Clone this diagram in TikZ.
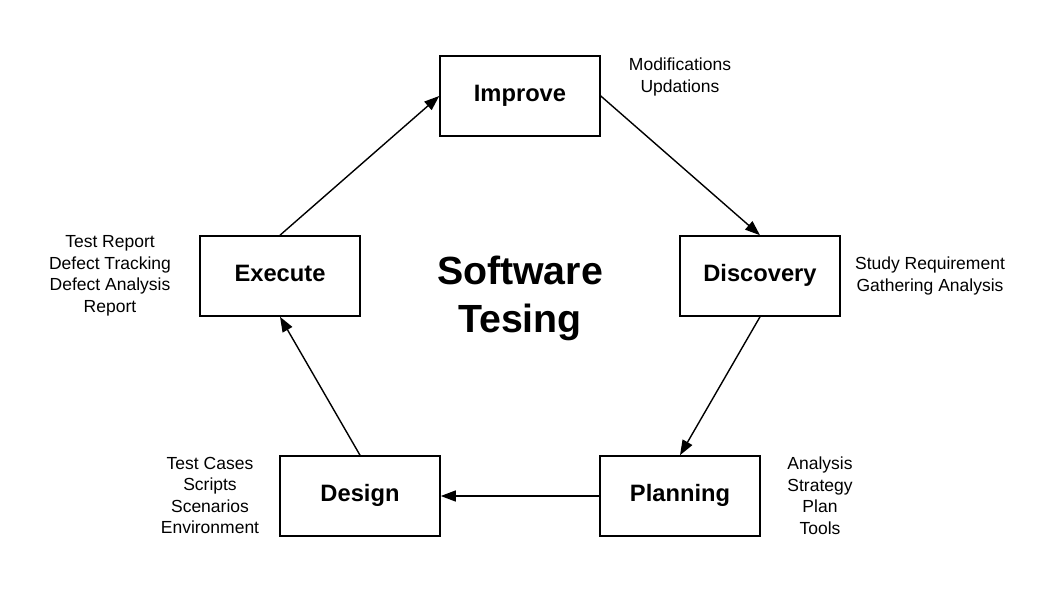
\documentclass[tikz,border=0pt]{standalone}
\usepackage{fontspec}
\setmainfont{Liberation Sans}
\usetikzlibrary{arrows.meta}
\begin{document}
\begin{tikzpicture}[x=1pt,y=-1pt,
  stage/.style={draw,line width=1.6pt,minimum width=160pt,minimum height=80pt,inner sep=0pt,text height=15pt,text depth=5pt,font=\fontsize{23.7}{27}\selectfont\bfseries},
  note/.style={align=center,inner sep=0pt,font=\fontsize{17.5}{21.5}\selectfont},
  flow/.style={line width=1.4pt,-{Triangle[length=15pt,width=11pt]}}]
\useasboundingbox (0,0) rectangle (1060,606);
\node[stage] (improve) at (520,96) {Improve};
\node[stage] (discovery) at (760,276) {Discovery};
\node[stage] (planning) at (680,496) {Planning};
\node[stage] (design) at (360,496) {Design};
\node[stage] (execute) at (280,276) {Execute};
\node[align=center,inner sep=0pt,font=\fontsize{39.3}{48}\selectfont\bfseries] (title) at (520,298) {Software\\Tesing};
\node[note] (n1) at (680,77) {Modifications\\Updations};
\node[note] (n2) at (930,276) {Study Requirement\\Gathering Analysis};
\node[note] (n3) at (820,495.5) {Analysis\\Strategy\\Plan\\Tools};
\node[note] (n4) at (210,495.5) {Test Cases\\Scripts\\Scenarios\\Environment};
\node[note] (n5) at (110,276) {Test Report\\Defect Tracking\\Defect Analysis\\Report};
\draw[flow] (improve.east) -- (discovery.north);
\draw[flow] (discovery.south) -- (planning.north);
\draw[flow] (planning.west) -- (design.east);
\draw[flow] (design.north) -- (execute.south);
\draw[flow] (execute.north) -- (improve.west);
\end{tikzpicture}
\end{document}
